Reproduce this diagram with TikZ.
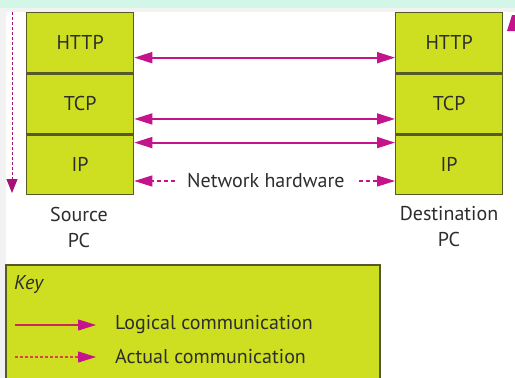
\documentclass[tikz,border=0pt]{standalone}
\usepackage{fontspec}
\setmainfont{PT Sans}
\usetikzlibrary{arrows.meta}
\definecolor{lime}{RGB}{206,222,32}
\definecolor{olive}{RGB}{85,90,40}
\definecolor{mag}{RGB}{196,20,140}
\definecolor{mint}{RGB}{210,246,232}
\definecolor{bgray}{RGB}{242,242,242}
\definecolor{keyred}{RGB}{200,40,90}
\definecolor{txt}{RGB}{45,45,45}
\tikzset{
  x=1pt,y=-1pt,
  mytip/.tip={Triangle[length=18pt,width=11pt]},
  layer/.style={draw=olive,line width=1.3pt,fill=lime,minimum width=107pt,minimum height=60pt,inner sep=0pt,font=\fontsize{20}{24}\selectfont,text=txt},
  lbl/.style={font=\fontsize{20}{26}\selectfont,text=txt,align=center,inner sep=0pt},
  logical/.style={draw=mag,line width=1.8pt,mytip-mytip},
  actual/.style={draw=mag,line width=1.1pt,dash pattern=on 4pt off 3pt},
}
\begin{document}
\begin{tikzpicture}
\useasboundingbox (0,0) rectangle (515,378);
\fill[bgray] (0,0) rectangle (515,378);
\fill[mint] (0,0) rectangle (515,8);
\fill[white] (6,12) rectangle (515,378);
% left stack
\node[layer,anchor=north west] (sh) at (26,12) {HTTP};
\node[layer,anchor=north] (st) at (sh.south) {TCP};
\node[layer,anchor=north,minimum height=59pt] (si) at (st.south) {IP};
% right stack
\node[layer,anchor=north west] (dh) at (395,12) {HTTP};
\node[layer,anchor=north] (dt) at (dh.south) {TCP};
\node[layer,anchor=north,minimum height=59pt] (di) at (dt.south) {IP};
% logical arrows
\draw[logical] ([yshift=-15pt]sh.east) -- ([yshift=-15pt]dh.west);
\draw[logical] ([yshift=-15pt]st.east) -- ([yshift=-15pt]dt.west);
\draw[logical] ([yshift=-8pt]si.north east) -- ([yshift=-8pt]di.north west);
% network hardware
\node[lbl,anchor=west] (nh) at (187,181) {Network hardware};
\draw[actual,-mytip] ([xshift=-12pt]nh.west) -- (si.east |- nh.west);
\draw[actual,-mytip] ([xshift=14pt]nh.east) -- (di.west |- nh.east);
% left vertical dotted arrow
\coordinate (vt) at (12,12);
\coordinate (vb) at (12,193);
\draw[draw=mag!85!black,line width=1pt,dash pattern=on 3pt off 2pt,-{Triangle[length=14pt,width=11pt]},mag!85!black] (vt) -- (vb);
% right cut-off arrow tip
\fill[mag] (507,31) -- (512,15) -- (515,15) -- (515,31) -- cycle;
% labels
\node[lbl] (src) at (79,227) {Source\\PC};
\node[lbl] (dst) at (449,227) {Destination\\PC};
% key
\draw[olive,line width=1.3pt,fill=lime] (6,265) rectangle (380,380);
\node[lbl,anchor=west,font=\fontsize{20}{24}\selectfont\itshape] (key) at (14,285) {Key};
\coordinate (l1) at (15,325);
\coordinate (l2) at (96,325);
\draw[draw=keyred,line width=1.8pt] (l1) -- ([xshift=-10pt]l2);
\draw[draw=mag,line width=1pt,-mytip] ([xshift=-12pt]l2) -- (l2);
\node[lbl,anchor=west] (lt) at (115,325) {Logical communication};
\coordinate (a1) at (15,357);
\coordinate (a2) at (96,357);
\draw[draw=keyred!70!orange,line width=1.3pt,dash pattern=on 3pt off 2pt] (a1) -- ([xshift=-12pt]a2);
\draw[draw=mag,line width=1pt,-mytip] ([xshift=-14pt]a2) -- (a2);
\node[lbl,anchor=west] (at) at (115,357) {Actual communication};
\end{tikzpicture}
\end{document}
